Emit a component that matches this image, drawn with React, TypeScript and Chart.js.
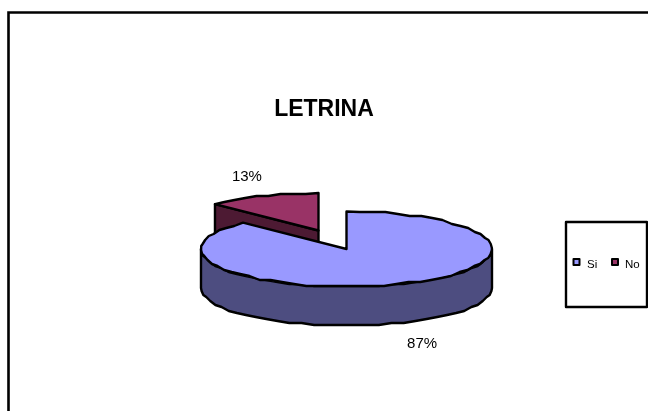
import React, { useEffect, useRef } from "react";
import { Chart, registerables } from "chart.js";

Chart.register(...registerables);

const categories = ["Si", "No"];
const values = [87.4, 12.6];
const title = "LETRINA";
const topColors = ["#9999FF", "#993366"];
const wallColors = ["#4D4D80", "#4D1A33"];

const CX = 346.5;
const CY = 249;
const RX = 145.5;
const RY = 37.5;
const K = RY / RX;
const DEPTH = 39;
const SHIFT = [[0, 0], [-28, -18.5]];
const LABEL_OFFSET = [[19.5, 60], [-15.5, -19]];
const FONT = '"Liberation Sans", Arial, sans-serif';
const GRID = 2;

const snap = (v: number) => Math.round(v / GRID) * GRID;

const ellipsePoints = (cx: number, cy: number, a0: number, a1: number) => {
  const pts: [number, number][] = [];
  const n = Math.max(2, Math.round(Math.abs(a1 - a0) / 0.09));
  for (let i = 0; i <= n; i++) {
    const a = a0 + ((a1 - a0) * i) / n;
    const x = cx + RX * Math.cos(a);
    const y = cy + RY * Math.sin(a);
    pts.push(i === 0 || i === n ? [x, y] : [x, snap(y)]);
  }
  return pts;
};

const tracePoly = (ctx: CanvasRenderingContext2D, pts: [number, number][], fill?: string) => {
  ctx.beginPath();
  pts.forEach(([x, y], i) => (i ? ctx.lineTo(x, y) : ctx.moveTo(x, y)));
  ctx.closePath();
  if (fill) {
    ctx.fillStyle = fill;
    ctx.fill();
  }
  ctx.strokeStyle = "#000";
  ctx.lineWidth = 2.4;
  ctx.lineJoin = "round";
  ctx.stroke();
};

const pie3d = {
  id: "pie3d",
  afterDatasetsUpdate(chart: any) {
    const arcs = chart.getDatasetMeta(0).data;
    arcs.forEach((arc: any, i: number) => {
      arc.x = CX + SHIFT[i][0];
      arc.y = CY + SHIFT[i][1] / K;
    });
  },
  beforeDatasetsDraw(chart: any) {
    const ctx = chart.ctx;
    const arcs = chart.getDatasetMeta(0).data;
    // frame
    ctx.save();
    ctx.strokeStyle = "#000";
    ctx.lineWidth = 2.6;
    ctx.beginPath();
    ctx.moveTo(8.5, 420);
    ctx.lineTo(8.5, 12.5);
    ctx.lineTo(660, 12.5);
    ctx.stroke();
    ctx.restore();
    // back slice: cut face
    const red = arcs[1];
    const rx = CX + SHIFT[1][0];
    const ry = CY + SHIFT[1][1];
    const e: [number, number] = [rx + RX * Math.cos(red.startAngle), ry + RY * Math.sin(red.startAngle)];
    tracePoly(ctx, [e, [rx, ry], [rx, ry + DEPTH], [e[0], e[1] + DEPTH]], wallColors[1]);
    // front wall of the large slice
    const front = ellipsePoints(CX, CY, 0, Math.PI);
    const lower = front.map(([x, y]) => [x, y + DEPTH] as [number, number]).reverse();
    tracePoly(ctx, [...front, ...lower], wallColors[0]);
    // squash the library's arcs into the tilted plane
    ctx.save();
    ctx.translate(0, CY);
    ctx.scale(1, K);
    ctx.translate(0, -CY);
  },
  afterDatasetsDraw(chart: any) {
    const ctx = chart.ctx;
    ctx.restore();
    const arcs = chart.getDatasetMeta(0).data;
    arcs.forEach((arc: any, i: number) => {
      const ax = CX + SHIFT[i][0];
      const ay = CY + SHIFT[i][1];
      tracePoly(ctx, [[ax, ay], ...ellipsePoints(ax, ay, arc.startAngle, arc.endAngle)]);
      const mid = (arc.startAngle + arc.endAngle) / 2;
      const total = values.reduce((s, v) => s + v, 0);
      ctx.fillStyle = "#000";
      ctx.font = `15px ${FONT}`;
      ctx.textAlign = "center";
      ctx.textBaseline = "middle";
      ctx.fillText(
        `${Math.round((values[i] / total) * 100)}%`,
        ax + RX * Math.cos(mid) + LABEL_OFFSET[i][0],
        ay + RY * Math.sin(mid) + LABEL_OFFSET[i][1]
      );
    });
    // legend
    ctx.strokeStyle = "#000";
    ctx.lineWidth = 2.4;
    ctx.fillStyle = "#fff";
    ctx.fillRect(566, 222, 81, 85);
    ctx.strokeRect(566, 222, 81, 85);
    const swatchX = [573.5, 612];
    const textX = [587, 625];
    categories.forEach((c, i) => {
      ctx.fillStyle = topColors[i];
      ctx.lineWidth = 2;
      ctx.fillRect(swatchX[i], 259, 6, 6);
      ctx.strokeRect(swatchX[i], 259, 6, 6);
      ctx.fillStyle = "#000";
      ctx.font = `11.5px ${FONT}`;
      ctx.textAlign = "left";
      ctx.textBaseline = "alphabetic";
      ctx.fillText(c, textX[i], 268);
    });
  },
};

export default function App() {
  const ref = useRef<HTMLCanvasElement>(null);
  useEffect(() => {
    const chart = new Chart(ref.current!, {
      type: "pie",
      data: {
        labels: categories,
        datasets: [
          {
            data: values,
            backgroundColor: topColors,
            borderWidth: 0,
            clip: false,
          } as any,
        ],
      },
      options: {
        animation: false,
        responsive: false,
        radius: RX,
        events: [],
        plugins: {
          legend: { display: false },
          tooltip: { enabled: false },
          title: {
            display: true,
            text: title,
            color: "#000",
            font: { family: FONT, size: 23, weight: "bold" },
            padding: { top: 96, bottom: 8 },
          },
        },
      } as any,
      plugins: [pie3d],
    });
    return () => chart.destroy();
  }, []);
  return (
    <canvas
      ref={ref}
      width={648}
      height={411}
      style={{ position: "absolute", left: 0, top: 0, display: "block" }}
    />
  );
}
